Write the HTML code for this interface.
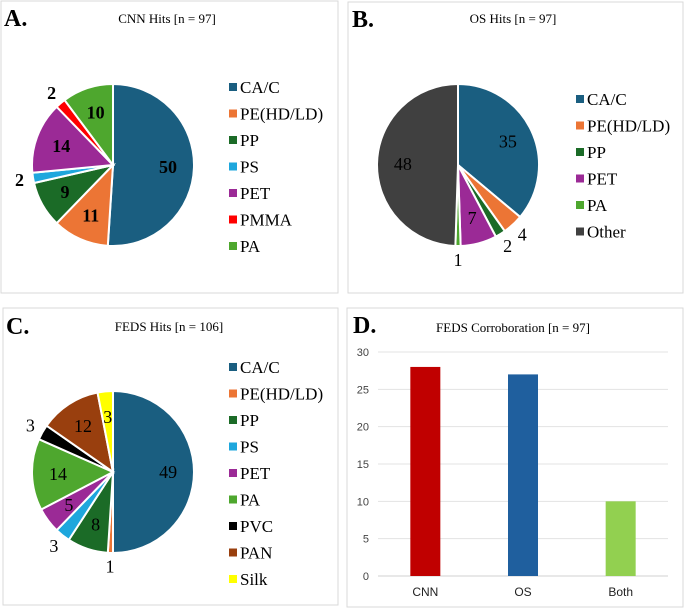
<!DOCTYPE html>
<html><head><meta charset="utf-8"><style>
body{margin:0;background:#fff;width:685px;height:610px;overflow:hidden;font-family:"Liberation Serif",serif}
svg text{font-family:"Liberation Serif",serif}
svg text.sans{font-family:"Liberation Sans",sans-serif}
</style></head><body>
<svg id="fig" width="685" height="610" xmlns="http://www.w3.org/2000/svg">
<rect x="1" y="1" width="337" height="292" fill="#fff" stroke="#d9d9d9"/>
<rect x="348" y="2" width="335" height="291" fill="#fff" stroke="#d9d9d9"/>
<rect x="3" y="308" width="335" height="297" fill="#fff" stroke="#d9d9d9"/>
<rect x="347" y="308" width="336" height="299" fill="#fff" stroke="#d9d9d9"/>
<text x="4" y="26" font-size="24" font-weight="bold">A.</text>
<text x="167" y="23" font-size="13" text-anchor="middle">CNN Hits [n = 97]</text>
<text x="352" y="27" font-size="24" font-weight="bold">B.</text>
<text x="513" y="23" font-size="13" text-anchor="middle">OS Hits [n = 97]</text>
<text x="6" y="334" font-size="24" font-weight="bold">C.</text>
<text x="169" y="331" font-size="13" text-anchor="middle">FEDS Hits [n = 106]</text>
<text x="353" y="333" font-size="24" font-weight="bold">D.</text>
<text x="513" y="332" font-size="13" text-anchor="middle">FEDS Corroboration [n = 97]</text>
</svg>
<script>
const aLabels=["CA/C","PE(HD/LD)","PP","PS","PET","PMMA","PA"];
const aValues=[50,11,9,2,14,2,10];
const aColors=["#1a5e80","#ec7535","#1b6b27","#1ea7dd","#9b2a96","#ff0000","#4ea72e"];
const aOutside=[0,0,0,1,0,1,0];
const bLabels=["CA/C","PE(HD/LD)","PP","PET","PA","Other"];
const bValues=[35,4,2,7,1,48];
const bColors=["#1a5e80","#ec7535","#1b6b27","#9b2a96","#4ea72e","#404040"];
const bOutside=[0,1,1,0,1,0];
const cLabels=["CA/C","PE(HD/LD)","PP","PS","PET","PA","PVC","PAN","Silk"];
const cValues=[49,1,8,3,5,14,3,12,3];
const cColors=["#1a5e80","#ec7535","#1b6b27","#1ea7dd","#9b2a96","#4ea72e","#000000","#993f0e","#ffff00"];
const cOutside=[0,1,0,1,0,0,1,0,0];
const dCats=["CNN","OS","Both"];
const dValues=[28,27,10];
const dColors=["#c00000","#1f5f9e","#92d050"];
const dTicks=[0,5,10,15,20,25,30];

const NS="http://www.w3.org/2000/svg";
const svg=document.getElementById('fig');
function mk(tag,attrs,parent){const e=document.createElementNS(NS,tag);for(const k in attrs)e.setAttribute(k,attrs[k]);(parent||svg).appendChild(e);return e;}

function pie(id,labels,values,colors,outside,cx,cy,r,bold,lx,ly,fs){
  const g=mk('g',{});
  
  
  const tot=values.reduce((a,b)=>a+b,0);
  let a0=-Math.PI/2;
  values.forEach((v,i)=>{
    const a1=a0+v/tot*2*Math.PI;
    const large=(a1-a0)>Math.PI?1:0;
    const d=`M${cx},${cy} L${cx+r*Math.cos(a0)},${cy+r*Math.sin(a0)} A${r},${r} 0 ${large} 1 ${cx+r*Math.cos(a1)},${cy+r*Math.sin(a1)} Z`;
    const p=mk('path',{d:d,fill:colors[i],stroke:'#fff','stroke-width':2},g);
    
    
    const m=(a0+a1)/2, f=outside[i]?1.17:0.68;
    const t=mk('text',{x:cx+r*f*Math.cos(m),y:cy+r*f*Math.sin(m)+6,'font-size':18,'text-anchor':'middle','font-weight':bold?'bold':'normal'},g);
    t.textContent=v;
    
    
    a0=a1;
  });
  labels.forEach((l,i)=>{
    const y=ly+i*26.5;
    const s=mk('rect',{x:lx,y:y-4,width:8,height:8,fill:colors[i]});
    
    
    const t=mk('text',{x:lx+11,y:y+6,'font-size':fs});
    t.textContent=l;
    
    
  });
}
pie('cnn',aLabels,aValues,aColors,aOutside,113,165,81,true,229,87,17);
pie('os',bLabels,bValues,bColors,bOutside,458,165,81,false,576,99,17);
pie('feds',cLabels,cValues,cColors,cOutside,113,472,81,false,229,367,17);

const x0=378,x1=668,yTop=352,yBot=576,tMax=30;
const ys=v=>yBot-(v/tMax)*(yBot-yTop);
const band=(x1-x0)/dCats.length;
dTicks.forEach(t=>{
  const l=mk('line',{x1:x0,x2:x1,y1:ys(t),y2:ys(t),stroke:t===0?'#d0d0d0':'#e3e3e3','stroke-width':1});
  
  
  const tx=mk('text',{x:369,y:ys(t)+4,'font-size':11,'text-anchor':'end',class:'sans',fill:'#444'});
  tx.textContent=t;
  
  
});
dCats.forEach((c,i)=>{
  const cx=x0+band*(i+0.5)+(i-1)*1;
  const b=mk('rect',{x:cx-15,y:ys(dValues[i]),width:30,height:yBot-ys(dValues[i]),fill:dColors[i]});
  
  
  const t=mk('text',{x:cx,y:596,'font-size':12,'text-anchor':'middle',class:'sans',fill:'#222'});
  t.textContent=c;
  
  
});
</script>
</body></html>
